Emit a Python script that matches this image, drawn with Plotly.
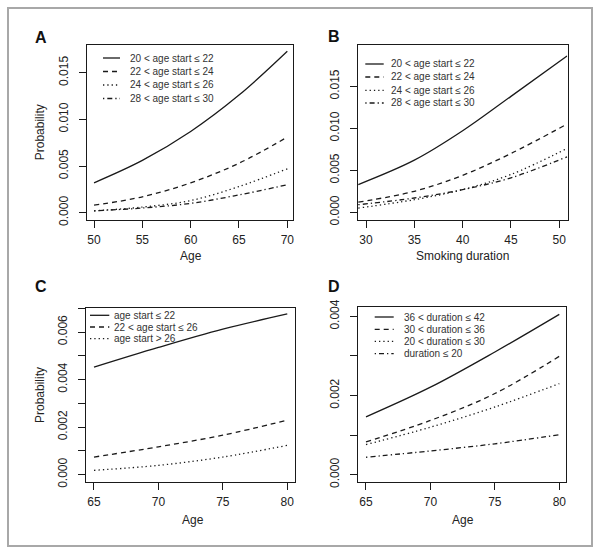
import plotly.graph_objects as go

# ---- data ----
age_a = [50, 55, 60, 65, 70]
prob_a_20_22 = [0.0032, 0.0056, 0.0087, 0.0126, 0.0173]
prob_a_22_24 = [0.0008, 0.0017, 0.0032, 0.0053, 0.0081]
prob_a_24_26 = [0.0002, 0.0006, 0.0013, 0.0028, 0.0047]
prob_a_28_30 = [0.0002, 0.0005, 0.0010, 0.0019, 0.0030]

dur_b = [29.2, 35, 40, 45, 50.8]
prob_b_20_22 = [0.0033, 0.0062, 0.0097, 0.0138, 0.0186]
prob_b_22_24 = [0.0012, 0.0025, 0.0044, 0.0070, 0.0105]
prob_b_24_26 = [0.0005, 0.0015, 0.0027, 0.0045, 0.0076]
prob_b_28_30 = [0.0009, 0.0017, 0.0027, 0.0041, 0.0066]

age_c = [65, 70, 75, 80]
prob_c_le22 = [0.00452, 0.00535, 0.00612, 0.00676]
prob_c_22_26 = [0.00074, 0.00117, 0.00166, 0.00229]
prob_c_gt26 = [0.00018, 0.00039, 0.00074, 0.00123]

age_d = [65, 70, 75, 80]
prob_d_36_42 = [0.00146, 0.00221, 0.00310, 0.00405]
prob_d_30_36 = [0.00083, 0.00137, 0.00205, 0.00299]
prob_d_20_30 = [0.00076, 0.00120, 0.00171, 0.00230]
prob_d_le20 = [0.00044, 0.00060, 0.00078, 0.00101]

labels_age_start = ["20 < age start ≤ 22", "22 < age start ≤ 24",
                    "24 < age start ≤ 26", "28 < age start ≤ 30"]
labels_c = ["age start ≤ 22", "22 < age start ≤ 26", "age start > 26"]
labels_d = ["36 < duration ≤ 42", "30 < duration ≤ 36",
            "20 < duration ≤ 30", "duration ≤ 20"]

W, H = 600, 554
INK = "#1a1a1a"
FONT = "Liberation Sans, Arial, sans-serif"
DASHES = ["solid", "5px,4px", "1.3px,3px", "1.3px,3px,5px,3px"]


def px(x):
    return x / W


def py(y):
    return 1 - y / H


panels = [
    dict(x=age_a, ys=[prob_a_20_22, prob_a_22_24, prob_a_24_26, prob_a_28_30],
         labels=labels_age_start, box=(86.5, 45, 293.3, 219.5),
         xr=[49.22, 70.62], yr=[-0.00073, 0.01797], dt=0.005, minor=None,
         leg=(103, 120, 127.5, [58, 71.5, 85, 98.5]),
         letter=("A", 41, 37.5), xtitle=("Age", 191, 256.5), ytitle=True),
    dict(x=dur_b, ys=[prob_b_20_22, prob_b_22_24, prob_b_24_26, prob_b_28_30],
         labels=labels_age_start, box=(358, 44.7, 567.5, 219.5),
         xr=[29.17, 50.85], yr=[-0.00086, 0.01995], dt=0.005, minor=None,
         leg=(365.3, 383.7, 388.7, [64, 77, 90.3, 103]),
         letter=("B", 334, 36), xtitle=("Smoking duration", 463, 255.5), ytitle=False),
    dict(x=age_c, ys=[prob_c_le22, prob_c_22_26, prob_c_gt26],
         labels=labels_c, box=(86, 308, 295, 482),
         xr=[64.38, 80.6], yr=[-0.00031, 0.00701], dt=0.002, minor=0.001,
         leg=(90, 109.3, 112.3, [315.3, 327, 338.7]),
         letter=("C", 41, 286), xtitle=("Age", 192.7, 519.5), ytitle=True),
    dict(x=age_d, ys=[prob_d_36_42, prob_d_30_36, prob_d_20_30, prob_d_le20],
         labels=labels_d, box=(358, 307, 565.5, 482),
         xr=[64.38, 80.48], yr=[-0.000185, 0.004236], dt=0.002, minor=0.001,
         leg=(374.7, 393.7, 402, [317, 329.3, 341.3, 353.7]),
         letter=("D", 334, 286), xtitle=("Age", 463.3, 519.5), ytitle=False),
]

fig = go.Figure()
shapes, annotations = [], []


def label(text, x, y, size, color="#222", angle=0, xanchor="center"):
    return dict(text=text, xref="paper", yref="paper", x=px(x), y=py(y),
                xanchor=xanchor, yanchor="middle", textangle=angle, showarrow=False,
                font=dict(size=size, color=color, family=FONT))


for i, p in enumerate(panels, start=1):
    sfx = "" if i == 1 else str(i)
    l, t, r, b = p["box"]
    x0, x1, xt, rows = p["leg"]
    for k, y in enumerate(p["ys"]):
        fig.add_trace(go.Scatter(
            x=p["x"], y=y, mode="lines", showlegend=False,
            line=dict(color=INK, width=1.3, dash=DASHES[k], shape="spline", smoothing=1.0),
            xaxis="x" + sfx, yaxis="y" + sfx,
        ))
        # R-style legend drawn by hand (plotly rows are too tall)
        shapes.append(dict(type="line", xref="paper", yref="paper",
                           x0=px(x0), x1=px(x1), y0=py(rows[k]), y1=py(rows[k]),
                           line=dict(color=INK, width=1.3, dash=DASHES[k])))
        annotations.append(label(p["labels"][k], xt, rows[k], 10, "#333", xanchor="left"))

    common = dict(showline=True, mirror=True, linecolor=INK, linewidth=1,
                  ticks="outside", ticklen=7, tickcolor=INK, tickwidth=1,
                  showgrid=False, zeroline=False, automargin=False,
                  tickfont=dict(size=12, color="#222", family=FONT))
    yaxis = dict(common, domain=[py(b), py(t)], range=p["yr"], dtick=p["dt"], tick0=0,
                 tickformat=".3f", tickangle=-90, ticklabelstandoff=6,
                 anchor="x" + sfx)
    if p["minor"]:
        yaxis["minor"] = dict(dtick=p["minor"], tick0=0, ticks="outside", ticklen=7,
                              tickcolor=INK, showgrid=False)
    fig.update_layout({
        "xaxis" + sfx: dict(common, domain=[px(l), px(r)], range=p["xr"], dtick=5,
                            ticklabelstandoff=2, anchor="y" + sfx),
        "yaxis" + sfx: yaxis,
    })

    letter, lx, ly = p["letter"]
    annotations.append(label("<b>%s</b>" % letter, lx, ly, 16, "#111"))
    title, tx, ty = p["xtitle"]
    annotations.append(label(title, tx, ty, 12))
    if p["ytitle"]:
        annotations.append(label("Probability", 40, (t + b) / 2, 12, angle=-90))

# grey frame around the whole figure
shapes.append(dict(type="rect", xref="paper", yref="paper",
                   x0=px(8), x1=px(592), y0=py(546), y1=py(8),
                   line=dict(color="#a8a8a8", width=2)))

fig.update_layout(
    width=W, height=H, margin=dict(l=0, r=0, t=0, b=0, pad=0),
    paper_bgcolor="white", plot_bgcolor="white",
    shapes=shapes, annotations=annotations, showlegend=False,
    font=dict(family=FONT),
)

fig.write_html("out.html", config={"displayModeBar": False},
               post_script="document.body.style.margin='0';")
